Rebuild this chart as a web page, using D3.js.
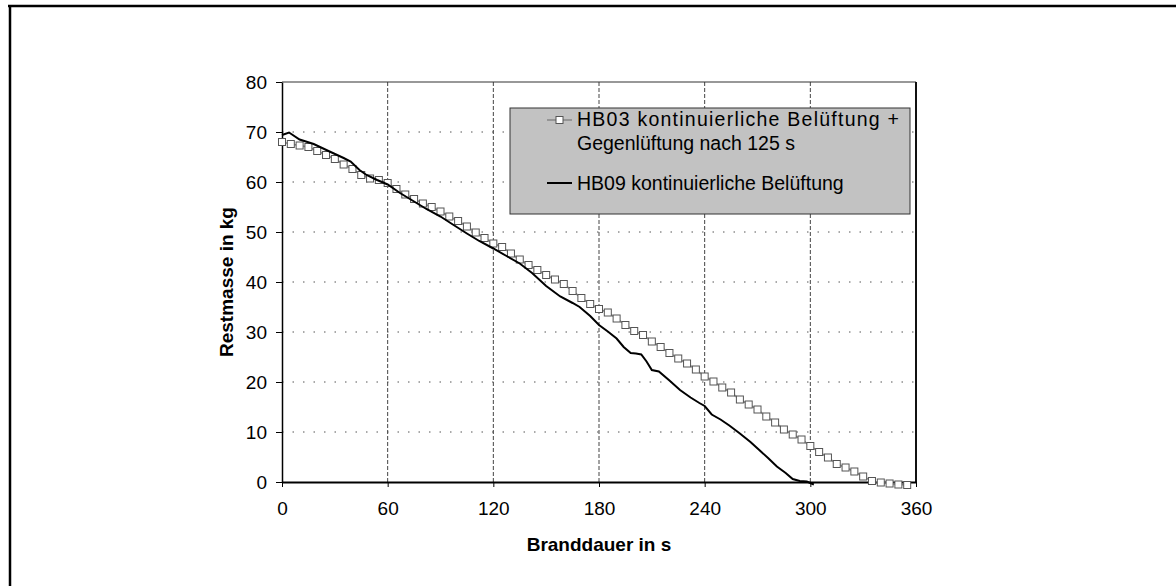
<!DOCTYPE html>
<html>
<head>
<meta charset="utf-8">
<script src="https://cdn.jsdelivr.net/npm/d3@7"></script>
<style>
  html, body { margin: 0; padding: 0; background: #fff; }
  svg { display: block; font-family: "Liberation Sans", Arial, sans-serif; }
</style>
</head>
<body>
<div id="chart"></div>
<script>
// HB03: kontinuierliche Belüftung + Gegenlüftung nach 125 s (Marker alle 5 s)
const timeHB03 = [0, 5, 10, 15, 20, 25, 30, 35, 40, 45, 50, 55, 60, 65, 70, 75, 80, 85, 90, 95,
  100, 105, 110, 115, 120, 125, 130, 135, 140, 145, 150, 155, 160, 165, 170, 175, 180, 185, 190, 195,
  200, 205, 210, 215, 220, 225, 230, 235, 240, 245, 250, 255, 260, 265, 270, 275, 280, 285, 290, 295,
  300, 305, 310, 315, 320, 325, 330, 335, 340, 345, 350, 355];
const massHB03 = [68.0, 67.6, 67.3, 67.0, 66.2, 65.4, 64.6, 63.5, 62.6, 61.4, 60.7, 60.4, 59.8, 58.6, 57.5, 56.6, 55.7, 55.0, 54.1, 53.1,
  52.2, 51.1, 49.9, 48.8, 47.7, 47.0, 45.7, 44.5, 43.4, 42.4, 41.4, 40.5, 39.6, 38.2, 36.8, 35.6, 34.6, 33.9, 32.7, 31.4,
  30.2, 29.4, 28.1, 27.0, 25.8, 24.7, 23.7, 22.5, 21.1, 20.1, 18.9, 17.9, 16.5, 15.5, 14.5, 13.1, 11.9, 10.5, 9.5, 8.5,
  7.2, 6.0, 4.9, 3.6, 2.9, 2.1, 1.1, 0.2, -0.1, -0.3, -0.5, -0.6];

// HB09: kontinuierliche Belüftung
const timeHB09 = [0, 4, 10, 18, 27, 35, 39, 44, 48, 54, 60, 67, 75, 82, 90, 97, 105, 112, 120, 128,
  135, 142, 150, 158, 165, 169, 175, 180, 185, 190, 194, 198, 201, 204, 207, 210, 214, 220, 226, 232,
  237, 240, 244, 249, 254, 260, 266, 271, 276, 281, 286, 290, 294, 298, 302];
const massHB09 = [69.4, 69.9, 68.5, 67.6, 66.1, 64.8, 64.1, 62.4, 61.4, 60.4, 59.5, 57.8, 56.1, 54.6, 53.1, 51.5, 49.7, 48.2, 46.7, 45.1,
  43.7, 41.8, 39.2, 37.1, 35.8, 35.0, 33.2, 31.4, 30.1, 28.7, 27.0, 25.8, 25.7, 25.5, 24.1, 22.4, 22.1, 20.3, 18.4, 16.9,
  15.8, 15.2, 13.5, 12.5, 11.3, 9.7, 8.0, 6.4, 4.8, 3.1, 1.8, 0.6, 0.2, 0.1, -0.5];

const xTicks = [0, 60, 120, 180, 240, 300, 360];
const yTicks = [0, 10, 20, 30, 40, 50, 60, 70, 80];
const legendLines = ["HB03 kontinuierliche Belüftung +", "Gegenlüftung nach 125 s", "HB09 kontinuierliche Belüftung"];
const xTitle = "Branddauer in s";
const yTitle = "Restmasse in kg";

const W = 1176, H = 586;
const margin = { top: 82, right: 260, bottom: 104, left: 282 };
const width = W - margin.left - margin.right;
const height = H - margin.top - margin.bottom;

const svg = d3.select("#chart").append("svg")
  .attr("width", W)
  .attr("height", H);

// scanned page frame (top and left edge)
svg.append("line").attr("x1", 8).attr("x2", W).attr("y1", 6).attr("y2", 6)
  .attr("stroke", "#000").attr("stroke-width", 2.5);
svg.append("line").attr("x1", 10).attr("x2", 10).attr("y1", 5).attr("y2", H)
  .attr("stroke", "#000").attr("stroke-width", 2.5);

const chart = svg.append("g")
  .attr("transform", `translate(${margin.left},${margin.top})`);

const x = d3.scaleLinear().domain([0, 360]).range([0, width]);
const y = d3.scaleLinear().domain([0, 80]).range([height, 0]);

// gridlines
chart.append("g")
  .selectAll("line")
  .data(yTicks.filter(d => d > 0 && d < 80))
  .enter().append("line")
  .attr("x1", 0).attr("x2", width)
  .attr("y1", d => y(d)).attr("y2", d => y(d))
  .attr("stroke", "#555")
  .attr("stroke-width", 1)
  .attr("stroke-dasharray", "1.5,9");

chart.append("g")
  .selectAll("line")
  .data(xTicks.filter(d => d > 0 && d < 360))
  .enter().append("line")
  .attr("x1", d => x(d)).attr("x2", d => x(d))
  .attr("y1", 0).attr("y2", height)
  .attr("stroke", "#444")
  .attr("stroke-width", 1)
  .attr("stroke-dasharray", "4,2");

// plot area border
chart.append("line").attr("x1", 0).attr("x2", width).attr("y1", 0).attr("y2", 0)
  .attr("stroke", "#333").attr("stroke-width", 1.2);
chart.append("line").attr("x1", width).attr("x2", width).attr("y1", 0).attr("y2", height)
  .attr("stroke", "#111").attr("stroke-width", 2);

// axes
const xAxis = chart.append("g")
  .attr("transform", `translate(0,${height})`)
  .call(d3.axisBottom(x).tickValues(xTicks).tickSize(5).tickPadding(15).tickSizeOuter(0));
const yAxis = chart.append("g")
  .call(d3.axisLeft(y).tickValues(yTicks).tickSize(6).tickPadding(9).tickSizeOuter(0));

[xAxis, yAxis].forEach(a => {
  a.selectAll("text")
    .style("font-size", "19px")
    .style("font-family", "'Liberation Sans', Arial, sans-serif")
    .attr("fill", "#000");
  a.selectAll("line").attr("stroke", "#000");
});
xAxis.select(".domain").attr("stroke", "#000").attr("stroke-width", 2);
yAxis.select(".domain").attr("stroke", "#000").attr("stroke-width", 1.5);

// series
const hb03 = timeHB03.map((t, i) => ({ t, m: massHB03[i] }));
const hb09 = timeHB09.map((t, i) => ({ t, m: massHB09[i] }));

const line = d3.line()
  .x(d => x(d.t))
  .y(d => y(d.m));

chart.append("path")
  .datum(hb03)
  .attr("fill", "none")
  .attr("stroke", "#8a8a8a")
  .attr("stroke-width", 1.6)
  .attr("d", line);

chart.selectAll(".hb03-point")
  .data(hb03)
  .enter()
  .append("rect")
  .attr("class", "hb03-point")
  .attr("x", d => x(d.t) - 3.5)
  .attr("y", d => y(d.m) - 3.5)
  .attr("width", 7)
  .attr("height", 7)
  .attr("fill", "#fff")
  .attr("stroke", "#555")
  .attr("stroke-width", 1);

chart.append("path")
  .datum(hb09)
  .attr("fill", "none")
  .attr("stroke", "#000")
  .attr("stroke-width", 2)
  .attr("d", line);

// axis titles
svg.append("text")
  .attr("x", margin.left + width / 2)
  .attr("y", 551)
  .attr("text-anchor", "middle")
  .style("font-size", "19px")
  .style("font-weight", "bold")
  .text(xTitle);

svg.append("text")
  .attr("transform", `translate(233,${margin.top + height / 2}) rotate(-90)`)
  .attr("text-anchor", "middle")
  .style("font-size", "19px")
  .style("font-weight", "bold")
  .text(yTitle);

// legend
const legend = svg.append("g");
legend.append("rect")
  .attr("x", 510).attr("y", 108)
  .attr("width", 400).attr("height", 106)
  .attr("fill", "#c2c2c2")
  .attr("stroke", "#333")
  .attr("stroke-width", 1);

legend.append("line")
  .attr("x1", 547).attr("x2", 572).attr("y1", 120).attr("y2", 120)
  .attr("stroke", "#8a8a8a").attr("stroke-width", 1.6);
legend.append("rect")
  .attr("x", 556).attr("y", 116.5).attr("width", 7).attr("height", 7)
  .attr("fill", "#fff").attr("stroke", "#555");
legend.append("line")
  .attr("x1", 547).attr("x2", 572).attr("y1", 183).attr("y2", 183)
  .attr("stroke", "#000").attr("stroke-width", 2);

const legendY = [126, 150, 190];
legend.selectAll(".legend-text")
  .data(legendLines)
  .enter()
  .append("text")
  .attr("class", "legend-text")
  .attr("x", 577)
  .attr("y", (d, i) => legendY[i])
  .style("font-size", "19.5px")
  .text(d => d);

// the first legend line is spread wider in the scan
legend.select(".legend-text")
  .attr("textLength", 322)
  .attr("lengthAdjust", "spacing");
</script>
</body>
</html>
